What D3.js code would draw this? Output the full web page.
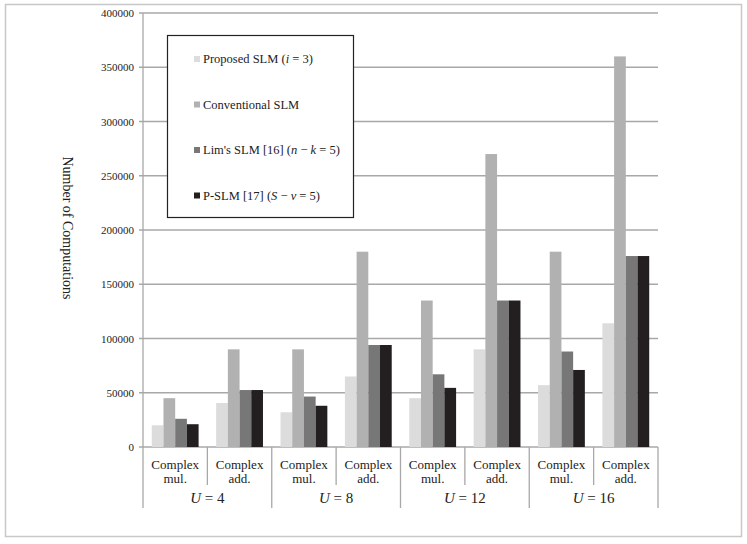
<!DOCTYPE html>
<html>
<head>
<meta charset="utf-8">
<script src="https://cdn.jsdelivr.net/npm/d3@7"></script>
<style>
  body { margin: 0; background: #fff; }
  text { font-family: "Liberation Serif", "Times New Roman", serif; fill: #222; }
</style>
</head>
<body>
<svg id="chart" width="747" height="544"></svg>
<script>
// data
var groups = ['U = 4', 'U = 8', 'U = 12', 'U = 16'];
var ops = ['Complex mul.', 'Complex add.'];
var seriesNames = ['Proposed SLM', 'Conventional SLM', "Lim's SLM [16]", 'P-SLM [17]'];
var seriesColors = ['#dcdcdd', '#b1b1b2', '#777778', '#231f20'];
var proposed     = [20000, 40500, 32000, 65000, 45000, 90000, 57000, 114000];
var conventional = [45000, 90000, 90000, 180000, 135000, 270000, 180000, 360000];
var lims         = [26000, 52500, 46500, 94000, 67000, 135000, 88000, 176000];
var pslm         = [21000, 52500, 38000, 94000, 54500, 135000, 71000, 176000];
var yTicks = [0, 50000, 100000, 150000, 200000, 250000, 300000, 350000, 400000];

var series = [proposed, conventional, lims, pslm];

var svg = d3.select('#chart');
var plotLeft = 143, plotRight = 658, plotTop = 13, plotBottom = 447;
var gridColor = '#a8a8a8';

// outer frame
svg.append('rect').attr('x', 5.5).attr('y', 4.5).attr('width', 736).attr('height', 532)
    .attr('fill', 'none').attr('stroke', '#c8c8c8').attr('stroke-width', 1.5);

var cats = d3.range(8);
var x = d3.scaleBand().domain(cats).range([plotLeft, plotRight]).paddingInner(0).paddingOuter(0);
var xs = d3.scaleBand().domain(d3.range(4)).range([0, x.bandwidth()]).paddingOuter(0.75).paddingInner(0);
var y = d3.scaleLinear().domain([0, 400000]).range([plotBottom, plotTop]);

// grid
svg.append('g').selectAll('line').data(yTicks).enter().append('line')
    .attr('x1', plotLeft - 4).attr('x2', plotRight)
    .attr('y1', function(d) { return y(d); }).attr('y2', function(d) { return y(d); })
    .attr('stroke', gridColor).attr('stroke-width', 1.3);

svg.append('g').selectAll('text').data(yTicks).enter().append('text')
    .attr('x', plotLeft - 9).attr('y', function(d) { return y(d) + 4; })
    .attr('text-anchor', 'end').attr('font-size', 11)
    .text(function(d) { return d; });

// bars
series.forEach(function(vals, si) {
    svg.append('g').selectAll('rect').data(vals).enter().append('rect')
	.attr('x', function(d, i) { return x(i) + xs(si); })
	.attr('y', function(d) { return y(d); })
	.attr('width', xs.bandwidth())
	.attr('height', function(d) { return y(0) - y(d); })
	.attr('fill', seriesColors[si]);
});

// y axis line
svg.append('line').attr('x1', plotLeft).attr('x2', plotLeft).attr('y1', plotTop).attr('y2', 508)
    .attr('stroke', gridColor).attr('stroke-width', 1.3);

// category separators
cats.forEach(function(i) {
    if (i === 0) return;
    var xx = x(i);
    svg.append('line').attr('x1', xx).attr('x2', xx).attr('y1', plotBottom)
	.attr('y2', i % 2 === 0 ? 508 : 485)
	.attr('stroke', gridColor).attr('stroke-width', 1.3);
});
svg.append('line').attr('x1', plotRight).attr('x2', plotRight).attr('y1', plotBottom).attr('y2', 508)
    .attr('stroke', gridColor).attr('stroke-width', 1.3);

// category labels
cats.forEach(function(i) {
    var cx = x(i) + x.bandwidth() / 2;
    var parts = ops[i % 2].split(' ');
    svg.append('text').attr('x', cx).attr('y', 469).attr('text-anchor', 'middle')
	.attr('font-size', 13).text(parts[0]);
    svg.append('text').attr('x', cx).attr('y', 483).attr('text-anchor', 'middle')
	.attr('font-size', 13).text(parts[1]);
});
groups.forEach(function(g, gi) {
    var cx = x(gi * 2) + x.bandwidth();
    var p = g.split(' = ');
    var t = svg.append('text').attr('x', cx).attr('y', 503).attr('text-anchor', 'middle')
	.attr('font-size', 15);
    t.append('tspan').attr('font-style', 'italic').text(p[0]);
    t.append('tspan').text(' = ' + p[1]);
});

// y title
svg.append('text').attr('transform', 'translate(63,228) rotate(90)')
    .attr('text-anchor', 'middle').attr('font-size', 14).text('Number of Computations');

// legend
var lg = svg.append('g');
lg.append('rect').attr('x', 167.5).attr('y', 35.5).attr('width', 186).attr('height', 182)
    .attr('fill', '#fff').attr('stroke', '#222').attr('stroke-width', 1.2);
var legendRows = [
    [seriesNames[0] + ' (', ['i', ' = 3'], ')'],
    [seriesNames[1], null, ''],
    [seriesNames[2] + ' (', ['n', ' \u2212 ', 'k', ' = 5'], ')'],
    [seriesNames[3] + ' (', ['S', ' \u2212 ', 'v', ' = 5'], ')']
];
legendRows.forEach(function(r, i) {
    var ly = 59 + i * 45.5;
    lg.append('rect').attr('x', 194).attr('y', ly - 3).attr('width', 6).attr('height', 6)
	.attr('fill', seriesColors[i]);
    var t = lg.append('text').attr('x', 203).attr('y', ly + 4).attr('font-size', 12.5);
    t.append('tspan').text(r[0]);
    if (r[1]) {
	r[1].forEach(function(s, k) {
	    t.append('tspan').attr('font-style', k % 2 === 0 ? 'italic' : 'normal').text(s);
	});
    }
    t.append('tspan').text(r[2]);
});
</script>
</body>
</html>
